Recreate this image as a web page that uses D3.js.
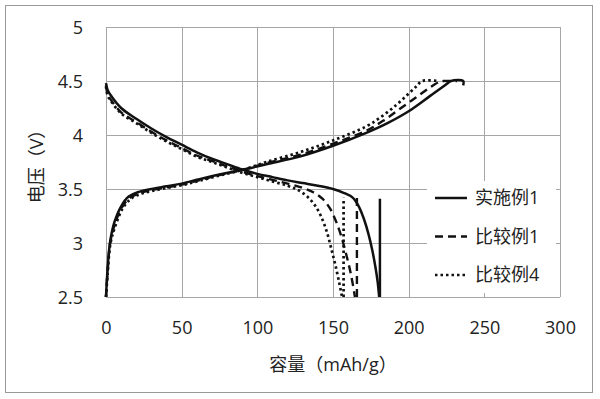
<!DOCTYPE html>
<html>
<head>
<meta charset="utf-8">
<script src="https://cdn.jsdelivr.net/npm/d3@7"></script>
<style>
  body { margin: 0; background: #fff; }
  text { font-family: "Open Sans", "Noto Sans CJK SC", sans-serif; fill: #222; }
</style>
</head>
<body>
<div id="chart"></div>
<script>
// tick values
var xTicks = [0, 50, 100, 150, 200, 250, 300];
var yTicks = [2.5, 3, 3.5, 4, 4.5, 5];

// series names
var seriesNames = ["实施例1", "比较例1", "比较例4"];

// discharge curves [capacity, voltage]
var ex1Discharge = [[0,4.48],[1,4.42],[3,4.37],[10,4.25],[20,4.15],[30,4.06],[40,3.98],[50,3.91],[60,3.84],[70,3.78],[80,3.73],[90,3.68],[100,3.64],[110,3.61],[120,3.58],[130,3.555],[140,3.53],[150,3.5],[157,3.465],[163,3.42],[167,3.34],[170.5,3.22],[173.5,3.08],[176,2.93],[178,2.78],[179.5,2.64],[180.5,2.5]];
var cmp1Discharge = [[0,4.46],[1,4.38],[3,4.33],[10,4.21],[20,4.12],[30,4.03],[40,3.95],[50,3.88],[60,3.81],[70,3.76],[80,3.71],[90,3.66],[100,3.62],[110,3.585],[120,3.55],[130,3.51],[137,3.47],[143,3.41],[148,3.32],[152,3.2],[155.5,3.06],[159,2.88],[162,2.7],[164.5,2.5]];
var cmp4Discharge = [[0,4.45],[1,4.37],[3,4.32],[10,4.2],[20,4.11],[30,4.02],[40,3.94],[50,3.87],[60,3.8],[70,3.75],[80,3.7],[90,3.65],[100,3.61],[110,3.57],[120,3.53],[127,3.49],[133,3.43],[138,3.35],[142,3.25],[146,3.1],[149,2.94],[151.5,2.8],[154,2.64],[156,2.5]];

// rest (recovery) lines after discharge
var ex1Rest = [[181,2.5],[181,3.41]];
var cmp1Rest = [[165.8,2.5],[165.8,3.44]];
var cmp4Rest = [[157,2.5],[157,3.42]];

// charge curves
var ex1Charge = [[0,2.5],[1,2.75],[2.6,3.0],[5.5,3.19],[10,3.34],[15,3.43],[21,3.47],[30,3.5],[40,3.525],[50,3.55],[60,3.585],[75,3.635],[91,3.68],[106,3.73],[128,3.8],[150,3.9],[172,4.02],[186,4.11],[200,4.22],[214,4.36],[224,4.46],[228,4.5],[236,4.5],[236,4.46]];
var cmp1Charge = [[0,2.5],[1,2.72],[2.8,3.0],[6,3.18],[10.5,3.33],[16,3.42],[22,3.46],[30,3.49],[40,3.515],[50,3.54],[60,3.575],[75,3.63],[91,3.68],[106,3.74],[128,3.815],[150,3.92],[172,4.04],[184,4.14],[194,4.24],[205,4.35],[214,4.44],[220,4.49],[223,4.5],[232,4.5]];
var cmp4Charge = [[0,2.5],[1,2.7],[3,3.0],[6.5,3.17],[11,3.32],[16.5,3.41],[23,3.455],[30,3.48],[40,3.51],[50,3.535],[60,3.57],[75,3.625],[91,3.68],[106,3.75],[128,3.84],[150,3.95],[172,4.08],[183,4.18],[192,4.28],[199,4.37],[205,4.45],[209,4.5],[220,4.5]];

var width = 600, height = 399;
var margin = { top: 27, right: 40, bottom: 102, left: 106 };

var svg = d3.select("#chart")
  .append("svg")
  .attr("width", width)
  .attr("height", height);

// outer frame
svg.append("rect")
  .attr("x", 5.5).attr("y", 5.5)
  .attr("width", 587).attr("height", 387)
  .attr("fill", "none")
  .attr("stroke", "#9a9a9a")
  .attr("stroke-width", 1);

var x = d3.scaleLinear().domain([0, 300]).range([margin.left, width - margin.right]);
var y = d3.scaleLinear().domain([2.5, 5]).range([height - margin.bottom, margin.top]);

// grid
var grid = svg.append("g").attr("class", "grid");
grid.selectAll("line.v")
  .data(xTicks)
  .enter()
  .append("line")
  .attr("class", "v")
  .attr("x1", function(d) { return Math.round(x(d)) + 0.5; })
  .attr("x2", function(d) { return Math.round(x(d)) + 0.5; })
  .attr("y1", y(5))
  .attr("y2", y(2.5))
  .attr("stroke", "#a6a6a6");
grid.selectAll("line.h")
  .data(yTicks)
  .enter()
  .append("line")
  .attr("class", "h")
  .attr("y1", function(d) { return Math.round(y(d)) + 0.5; })
  .attr("y2", function(d) { return Math.round(y(d)) + 0.5; })
  .attr("x1", x(0))
  .attr("x2", x(300))
  .attr("stroke", "#a6a6a6");

// axes (labels only)
var xAxis = d3.axisBottom(x).tickValues(xTicks).tickSize(0).tickPadding(0);
var yAxis = d3.axisLeft(y).tickValues(yTicks).tickSize(0).tickPadding(0)
  .tickFormat(function(d) { return d3.format("")(d); });

var gx = svg.append("g")
  .attr("transform", "translate(0," + (height - margin.bottom + 24) + ")")
  .call(xAxis);
var gy = svg.append("g")
  .attr("transform", "translate(" + 83 + ",0)")
  .call(yAxis);
[gx, gy].forEach(function(g) {
  g.select(".domain").remove();
  g.selectAll("text")
    .style("font-size", "18px")
    .attr("fill", "#222")
    .style("font-family", "'Open Sans', 'Noto Sans CJK SC', sans-serif");
});
gy.selectAll("text").attr("dy", "0.35em");

// axis titles
svg.append("text")
  .attr("x", (x(0) + x(300)) / 2)
  .attr("y", 371)
  .attr("text-anchor", "middle")
  .style("font-size", "18px")
  .text("容量（mAh/g）");

svg.append("text")
  .attr("transform", "translate(43," + (y(3.75)) + ") rotate(-90)")
  .attr("text-anchor", "middle")
  .style("font-size", "18px")
  .text("电压（V）");

// line styles
var styles = [
  { dash: null, width: 2.5 },
  { dash: "8,5", width: 2.4 },
  { dash: "2.5,3", width: 2.7 }
];

var line = d3.line()
  .curve(d3.curveCatmullRom.alpha(0.5))
  .x(function(d) { return x(d[0]); })
  .y(function(d) { return y(d[1]); });

var curves = [
  { data: ex1Discharge, s: 0 }, { data: ex1Rest, s: 0 }, { data: ex1Charge, s: 0 },
  { data: cmp1Discharge, s: 1 }, { data: cmp1Rest, s: 1 }, { data: cmp1Charge, s: 1 },
  { data: cmp4Discharge, s: 2 }, { data: cmp4Rest, s: 2 }, { data: cmp4Charge, s: 2 }
];

svg.append("g")
  .selectAll("path")
  .data(curves)
  .enter()
  .append("path")
  .attr("d", function(d) { return line(d.data); })
  .attr("fill", "none")
  .attr("stroke", "#111")
  .attr("stroke-width", function(d) { return styles[d.s].width; })
  .attr("stroke-dasharray", function(d) { return styles[d.s].dash; })
  .attr("stroke-linejoin", "round");

// legend
var legend = svg.append("g");
legend.append("rect")
  .attr("x", 427).attr("y", 181)
  .attr("width", 129).attr("height", 112)
  .attr("fill", "#fff");

var legendRows = legend.selectAll("g.row")
  .data(seriesNames)
  .enter()
  .append("g")
  .attr("class", "row")
  .attr("transform", function(d, i) { return "translate(0," + (198 + i * 38.5) + ")"; });

legendRows.append("line")
  .attr("x1", 435).attr("x2", 467)
  .attr("y1", 0).attr("y2", 0)
  .attr("stroke", "#111")
  .attr("stroke-width", function(d, i) { return styles[i].width; })
  .attr("stroke-dasharray", function(d, i) { return styles[i].dash; });

legendRows.append("text")
  .attr("x", 475)
  .attr("y", 0)
  .attr("dy", "0.35em")
  .style("font-size", "18px")
  .text(function(d) { return d; });
</script>
</body>
</html>
